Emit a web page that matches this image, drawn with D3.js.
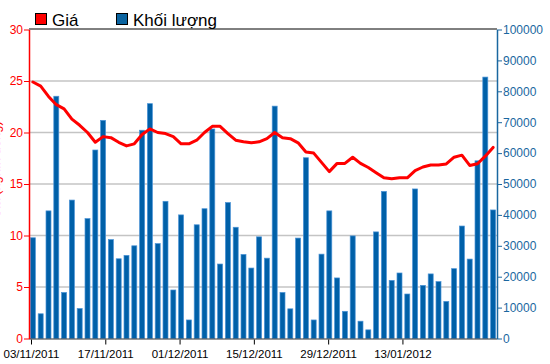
<!DOCTYPE html>
<html lang="vi">
<head>
<meta charset="UTF-8">
<script src="https://d3js.org/d3.v7.min.js"></script>
<style>
  body { margin: 0; padding: 0; background: #fff; }
  svg { display: block; font-family: "Liberation Sans", Arial, sans-serif; }
</style>
</head>
<body>
<div id="chart"></div>
<script>
// gia (nghin dong) theo phien
let giaArr = [24.9, 24.5, 23.5, 22.7, 22.3, 21.3, 20.7, 20.0, 19.05, 19.6, 19.5, 19.05, 18.7, 18.9, 19.8, 20.35, 20.0,
  19.9, 19.6, 18.9, 18.9, 19.25, 20.0, 20.6, 20.6, 19.9, 19.25, 19.1, 19.0, 19.1, 19.4, 20.0, 19.5,
  19.4, 19.0, 18.1, 18.0, 17.1, 16.2, 17.0, 17.0, 17.6, 17.0, 16.6, 16.1, 15.6, 15.5,
  15.6, 15.6, 16.3, 16.65, 16.85, 16.85, 16.95, 17.6, 17.8, 16.8, 16.97, 17.7, 18.55]

// khoi luong
let klArr = [32600, 8000, 41300, 78400, 14900, 44800, 9700, 38800, 61000, 70600, 32000, 25800, 26900, 30000, 67400, 76000, 30700,
  44400, 15700, 40000, 6000, 36800, 42000, 67800, 24100, 44000, 36000, 27200, 22800, 32900, 26000, 75200, 14900,
  9600, 32500, 58500, 6000, 27300, 41300, 19600, 8800, 33200, 5600, 2800, 34500, 47600, 18800,
  21200, 14400, 48400, 17200, 20900, 18400, 12000, 22600, 36400, 25700, 57500, 84600, 41600]

let ngayLabels = ["03/11/2011", "17/11/2011", "01/12/2011", "15/12/2011", "29/12/2011", "13/01/2012"]
let ngayTicks = [0, 10, 20, 30, 40, 50]
let giaTicks = [0, 5, 10, 15, 20, 25, 30]
let klTicks = [0, 10000, 20000, 30000, 40000, 50000, 60000, 70000, 80000, 90000, 100000]

let W = 550, H = 364
let pad = { left: 29, right: 497, top: 29.5, bottom: 338.5 }
let red = "#ff0000", blue = "#0060a8", blueTxt = "#1a67a0"

let svg = d3.select("#chart").append("svg").attr("width", W).attr("height", H)

let xb = d3.scaleBand().domain(d3.range(klArr.length))
  .range([pad.left, pad.right]).paddingInner(0.36).paddingOuter(0.18)
let xt = d3.scaleLinear().domain([0, 63]).range([31, 31 + 468])
let yl = d3.scaleLinear().domain([0, 30]).range([pad.bottom, pad.top])
let yr = d3.scaleLinear().domain([0, 100000]).range([pad.bottom, pad.top])

// luoi ngang
svg.append("g").selectAll("line").data([5, 10, 15, 20, 25]).enter().append("line")
  .attr("x1", pad.left).attr("x2", pad.right)
  .attr("y1", d => yl(d)).attr("y2", d => yl(d))
  .attr("stroke", "#c4c4c4").attr("stroke-width", 1.6)

// vien tren
svg.append("line").attr("x1", pad.left).attr("x2", pad.right)
  .attr("y1", pad.top - 0.5).attr("y2", pad.top - 0.5)
  .attr("stroke", "#000").attr("stroke-width", 1)

// cot khoi luong
svg.append("g").selectAll("rect").data(klArr).enter().append("rect")
  .attr("x", (d, i) => xb(i)).attr("width", xb.bandwidth())
  .attr("y", d => yr(d)).attr("height", d => yr(0) - yr(d))
  .attr("fill", blue).attr("stroke", "#4a93d6").attr("stroke-width", 0.7)

// truc x
let xAxis = d3.axisBottom(xt).tickValues(ngayTicks).tickSize(5).tickSizeOuter(0)
  .tickFormat((d, i) => ngayLabels[i])
let gx = svg.append("g").attr("transform", "translate(0," + (pad.bottom + 1) + ")").call(xAxis)
gx.select(".domain").remove()
gx.selectAll("line").attr("stroke", "#000")
gx.selectAll("text").attr("fill", "#000").attr("font-size", 11.5).attr("dy", "0.9em")
svg.append("line").attr("x1", pad.left).attr("x2", pad.right)
  .attr("y1", pad.bottom + 0.5).attr("y2", pad.bottom + 0.5).attr("stroke", "#333").attr("stroke-width", 1)

// truc trai
let gl = svg.append("g").attr("transform", "translate(" + pad.left + ",0)")
  .call(d3.axisLeft(yl).tickValues(giaTicks).tickSize(5).tickSizeOuter(0))
gl.select(".domain").attr("stroke", red).attr("stroke-width", 1.5)
gl.selectAll(".tick line").attr("stroke", red)
gl.selectAll("text").attr("fill", red).attr("font-size", 12).attr("x", -6)

// truc phai
let gr = svg.append("g").attr("transform", "translate(" + pad.right + ",0)")
  .call(d3.axisRight(yr).tickValues(klTicks).tickSize(5).tickSizeOuter(0).tickFormat(d3.format("d")))
gr.select(".domain").attr("stroke", blueTxt).attr("stroke-width", 1.5)
gr.selectAll(".tick line").attr("stroke", blueTxt)
gr.selectAll("text").attr("fill", blueTxt).attr("font-size", 12).attr("x", 6)

// tieu de truc trai (bi cat o mep trai nhu ban goc)
svg.append("text").attr("transform", "translate(0,170) rotate(-90)")
  .attr("text-anchor", "middle").attr("fill", red).attr("font-size", 13)
  .text("Giá (nghìn đồng)")

// duong gia
let line = d3.line().x((d, i) => xb(i) + xb.bandwidth() / 2).y(d => yl(d))
svg.append("path").datum(giaArr).attr("d", line)
  .attr("fill", "none").attr("stroke", red).attr("stroke-width", 3)
  .attr("stroke-linejoin", "round").attr("stroke-linecap", "round")

// chu giai
let legend = [{ t: "Giá", c: red, x: 35 }, { t: "Khối lượng", c: "#0b64a0", x: 116 }]
let lg = svg.append("g").selectAll("g").data(legend).enter().append("g")
lg.append("rect").attr("x", d => d.x + 0.5).attr("y", 13.5).attr("width", 11).attr("height", 11)
  .attr("fill", d => d.c).attr("stroke", "#000").attr("stroke-width", 1)
lg.append("text").attr("x", d => d.x + 17).attr("y", 26).attr("font-size", 17)
  .attr("fill", "#000").text(d => d.t)
</script>
</body>
</html>
